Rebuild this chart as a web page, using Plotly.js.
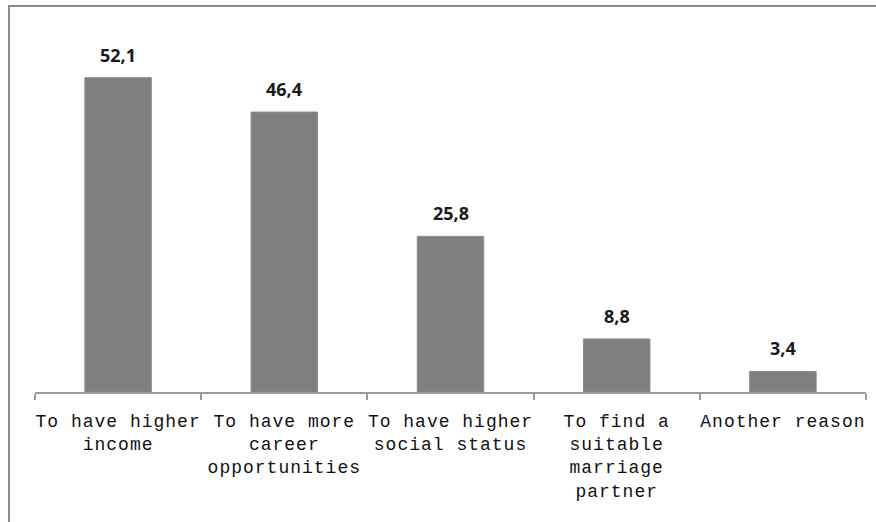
<!DOCTYPE html>
<html>
<head>
<meta charset="utf-8">
<script src="https://cdn.plot.ly/plotly-3.0.1.min.js"></script>
<style>
  html, body { margin: 0; padding: 0; background: #fff; }
  #chart { width: 876px; height: 522px; }
  .xtick text { letter-spacing: 1px; }
</style>
</head>
<body>
<div id="chart"></div>
<script>
const categories = [
  "To have higher<br>income",
  "To have more<br>career<br>opportunities",
  "To have higher<br>social status",
  "To find a<br>suitable<br>marriage<br>partner",
  "Another reason"
];
const values = [52.1, 46.4, 25.8, 8.8, 3.4];
const valueLabels = ["52,1", "46,4", "25,8", "8,8", "3,4"];

const trace = {
  type: "bar",
  x: categories,
  y: values,
  marker: { color: "#7f7f7f", line: { color: "#8c8c8c", width: 1 } },
  hoverinfo: "skip"
};

const annotations = values.map((v, i) => ({
  x: categories[i], y: v, xref: "x", yref: "y",
  text: valueLabels[i], showarrow: false,
  yanchor: "bottom", yshift: 9,
  font: { family: "Noto Sans, sans-serif", size: 18, color: "#1a1a1a", weight: "bold" }
}));

const layout = {
  width: 876, height: 522,
  margin: { l: 35, r: 10, t: 30, b: 130 },
  paper_bgcolor: "#fff", plot_bgcolor: "#fff",
  showlegend: false,
  bargap: 0.6,
  separators: ", ",
  xaxis: {
    type: "category",
    range: [-0.5, 4.5],
    showline: true, linecolor: "#9a9a9a", linewidth: 2,
    ticks: "outside", tickson: "boundaries", ticklen: 6, tickcolor: "#9a9a9a", tickwidth: 2,
    showgrid: false, zeroline: false,
    tickfont: { family: "Liberation Mono, Courier New, monospace", size: 18, color: "#111" },
    ticklabelstandoff: 11,
    automargin: false, fixedrange: true
  },
  yaxis: {
    range: [0, 60], visible: false, showgrid: false, zeroline: false, fixedrange: true
  },
  annotations: annotations,
  shapes: [{
    type: "rect", xref: "paper", yref: "paper",
    x0: -0.0313, x1: 1.2, y0: -0.6, y1: 1.066,
    line: { color: "#8c8c8c", width: 2 }, fillcolor: "rgba(0,0,0,0)", layer: "above"
  }]
};

Plotly.newPlot("chart", [trace], layout, { displayModeBar: false, staticPlot: true });
</script>
</body>
</html>
